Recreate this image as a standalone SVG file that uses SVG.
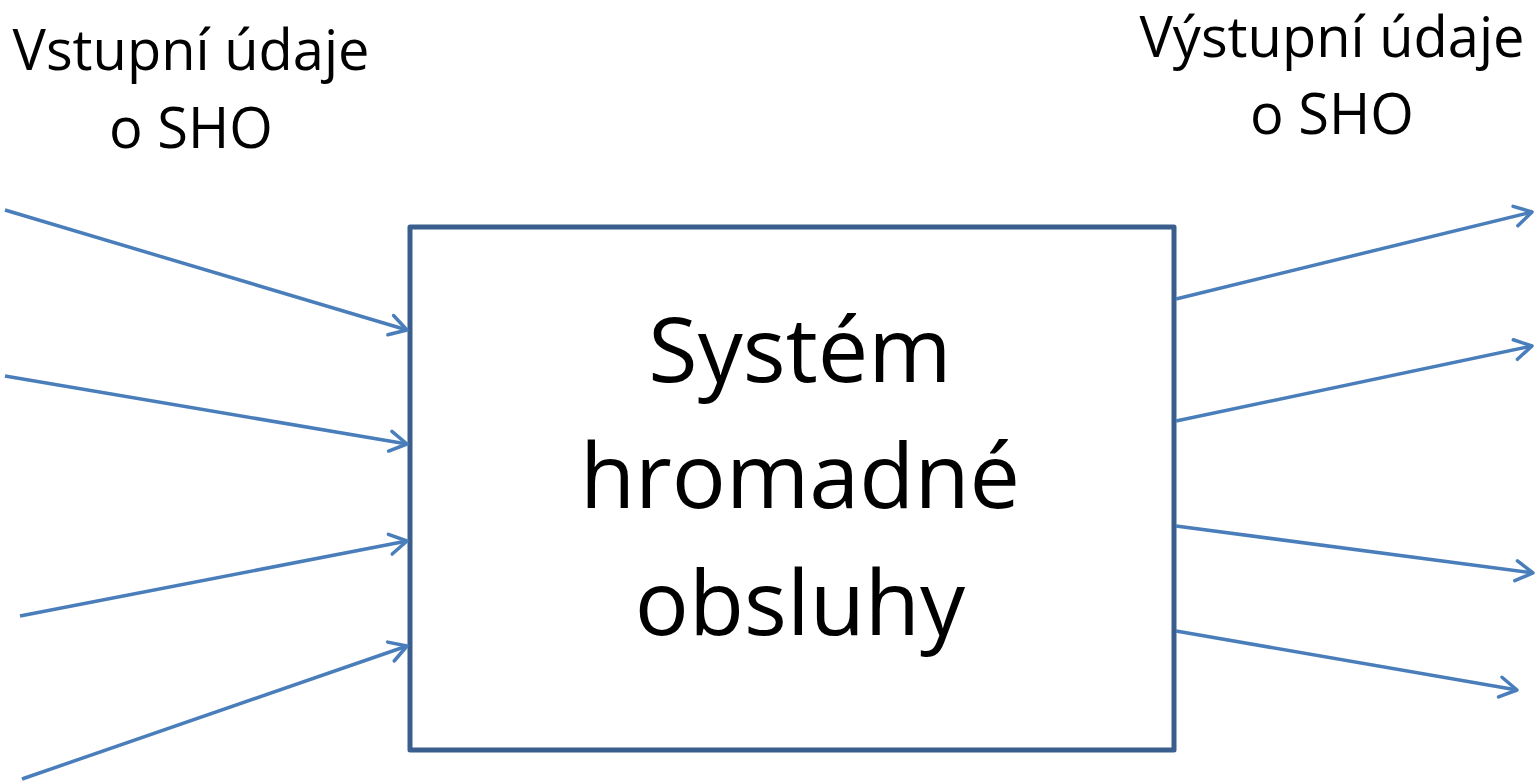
<svg xmlns="http://www.w3.org/2000/svg" width="1535" height="781" viewBox="0 0 1535 781">
  <style>
    .lbl { font-family: "Open Sans", "Liberation Sans", sans-serif; font-size: 56px; fill: #000; text-anchor: middle; }
    .main { font-family: "Open Sans", "Liberation Sans", sans-serif; font-size: 90px; fill: #000; text-anchor: middle; }
    .box { fill: #fff; stroke: #3A5F8E; stroke-width: 5; stroke-linejoin: round; }
    .arr { fill: none; stroke: #4A7EBB; stroke-width: 3.5; marker-end: url(#head); }
  </style>
  <defs>
    <marker id="head" markerUnits="userSpaceOnUse" markerWidth="40" markerHeight="40" refX="0" refY="0" viewBox="-25 -20 30 40" orient="auto" overflow="visible">
      <path d="M-17,-10 L0,0 L-17,10" fill="none" stroke="#4A7EBB" stroke-width="3.5" stroke-linecap="round" stroke-linejoin="round"/>
    </marker>
  </defs>
  <rect width="1535" height="781" fill="#fff"/>
  <g id="label-input">
    <text class="lbl" x="191" y="70">Vstupní údaje</text>
    <text class="lbl" x="191" y="148">o SHO</text>
  </g>
  <g id="label-output">
    <text class="lbl" x="1332" y="57">Výstupní údaje</text>
    <text class="lbl" x="1332" y="134">o SHO</text>
  </g>
  <g id="system">
    <rect class="box" x="410" y="227" width="764" height="523"/>
    <text class="main" x="800" y="382">Systém</text>
    <text class="main" x="800" y="508">hromadné</text>
    <text class="main" x="800" y="635">obsluhy</text>
  </g>
  <g id="connectors">
    <line class="arr" x1="5" y1="210" x2="407" y2="330"/>
    <line class="arr" x1="5" y1="376" x2="407" y2="444"/>
    <line class="arr" x1="20" y1="616" x2="407" y2="541"/>
    <line class="arr" x1="22" y1="779" x2="407" y2="646"/>
    <line class="arr" x1="1176" y1="299" x2="1532" y2="212"/>
    <line class="arr" x1="1176" y1="421" x2="1532" y2="346"/>
    <line class="arr" x1="1176" y1="526" x2="1533" y2="573"/>
    <line class="arr" x1="1176" y1="631" x2="1517" y2="690"/>
  </g>
</svg>
